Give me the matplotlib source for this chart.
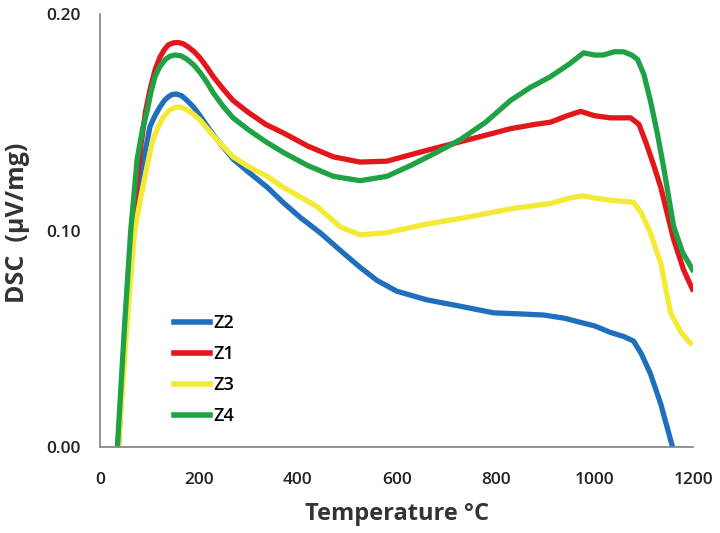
import matplotlib
matplotlib.use("Agg")
import matplotlib.pyplot as plt

# values (temperature in °C, DSC in µV/mg)
z2_t = [36, 52, 66, 83, 101, 111, 121, 130, 138, 146, 154, 165, 176, 189, 202,
        217, 233, 269, 300, 338, 370, 405, 445, 490, 526, 560, 600, 661, 730,
        796, 850, 897, 940, 965, 1000, 1032, 1060, 1079, 1095, 1113, 1134, 1158]
z2_v = [0.0, 0.058, 0.10, 0.127, 0.148, 0.153, 0.157, 0.160, 0.1617, 0.1628,
        0.163, 0.1622, 0.160, 0.157, 0.153, 0.148, 0.143, 0.133, 0.127, 0.120,
        0.113, 0.106, 0.099, 0.090, 0.083, 0.077, 0.072, 0.068, 0.065, 0.062,
        0.0615, 0.061, 0.0595, 0.058, 0.056, 0.053, 0.051, 0.049, 0.043,
        0.034, 0.020, 0.0]

z1_t = [37, 52, 65, 80, 92, 101, 111, 121, 130, 138, 148, 158, 168, 178, 190,
        202, 215, 229, 250, 269, 300, 335, 371, 420, 472, 526, 580, 661, 729,
        780, 830, 880, 911, 945, 972, 1000, 1032, 1073, 1090, 1105, 1120, 1134,
        1160, 1180, 1198]
z1_v = [0.0, 0.058, 0.10, 0.135, 0.155, 0.165, 0.174, 0.180, 0.1835, 0.1857,
        0.1866, 0.1868, 0.1862, 0.1848, 0.1826, 0.1797, 0.1757, 0.171, 0.165,
        0.160, 0.1545, 0.149, 0.145, 0.139, 0.134, 0.1316, 0.132, 0.137, 0.141,
        0.144, 0.147, 0.149, 0.150, 0.153, 0.155, 0.153, 0.152, 0.152, 0.149,
        0.140, 0.130, 0.120, 0.096, 0.082, 0.073]

z3_t = [37, 55, 70, 82, 91, 100, 107, 118, 128, 140, 154, 165, 176, 189, 202,
        217, 236, 269, 300, 338, 370, 405, 439, 486, 526, 580, 661, 740, 830,
        911, 950, 976, 1000, 1032, 1079, 1095, 1113, 1134, 1154, 1175, 1194]
z3_v = [0.0, 0.0587, 0.10, 0.115, 0.125, 0.135, 0.142, 0.148, 0.1524, 0.1555,
        0.157, 0.1568, 0.1557, 0.1537, 0.151, 0.147, 0.142, 0.134, 0.1295,
        0.125, 0.120, 0.1155, 0.111, 0.1016, 0.098, 0.099, 0.103, 0.106, 0.110,
        0.1125, 0.115, 0.116, 0.115, 0.114, 0.113, 0.108, 0.099, 0.085, 0.062,
        0.053, 0.048]

z4_t = [35, 50, 62, 75, 86, 95, 103, 111, 121, 132, 142, 152, 164, 176, 189,
        202, 215, 229, 250, 269, 300, 335, 371, 420, 472, 526, 580, 628, 680,
        729, 780, 830, 870, 911, 950, 978, 1000, 1018, 1040, 1059, 1075, 1087,
        1100, 1113, 1127, 1140, 1160, 1178, 1198]
z4_v = [0.0, 0.058, 0.10, 0.133, 0.147, 0.155, 0.164, 0.171, 0.1757, 0.179,
        0.1805, 0.181, 0.1806, 0.179, 0.1765, 0.173, 0.1688, 0.1635, 0.157,
        0.152, 0.1465, 0.141, 0.136, 0.130, 0.125, 0.123, 0.125, 0.130, 0.136,
        0.142, 0.150, 0.160, 0.166, 0.171, 0.177, 0.182, 0.181, 0.181, 0.1825,
        0.1825, 0.181, 0.179, 0.172, 0.160, 0.145, 0.129, 0.102, 0.090, 0.082]

x_ticks = [0, 200, 400, 600, 800, 1000, 1200]
y_ticks = [0.0, 0.10, 0.20]

series = [
    ("Z2", z2_t, z2_v, "#1f6fbd"),
    ("Z1", z1_t, z1_v, "#e3161c"),
    ("Z3", z3_t, z3_v, "#f2ea35"),
    ("Z4", z4_t, z4_v, "#1fa146"),
]

plt.rcParams["font.family"] = ["Open Sans", "DejaVu Sans"]

fig = plt.figure(figsize=(7.2, 5.33), dpi=100)
ax = fig.add_axes([0.139, 0.161, 0.824, 0.813])

for name, t, v, col in series:
    ax.plot(t, v, color=col, lw=3.8, label=name, solid_joinstyle="round")

ax.set_xlim(0, 1200)
ax.set_ylim(0, 0.20)
ax.set_xticks(x_ticks)
ax.set_yticks(y_ticks)
ax.set_yticklabels([f"{y:.2f}" for y in y_ticks])
ax.tick_params(length=0, labelsize=12.5, labelcolor="#222222")
ax.tick_params(axis="y", pad=14)
ax.tick_params(axis="x", pad=18)
for lab in ax.get_xticklabels() + ax.get_yticklabels():
    lab.set_fontweight("semibold")

for side in ["top", "right"]:
    ax.spines[side].set_visible(False)
for side in ["left", "bottom"]:
    ax.spines[side].set_color("#8a8a8a")
    ax.spines[side].set_linewidth(1.3)

ax.set_xlabel("Temperature °C", fontsize=17, fontweight="bold", color="#333333", labelpad=10)
ax.set_ylabel("DSC  (µV/mg)", fontsize=18, fontweight="bold", color="#333333")
ax.yaxis.set_label_coords(-0.118, 0.517)

leg = ax.legend(loc="upper left", bbox_to_anchor=(0.097, 0.345), frameon=False,
                handlelength=2.0, handletextpad=0.2, labelspacing=0.72,
                prop={"size": 13, "weight": "semibold"})
for line in leg.get_lines():
    line.set_linewidth(4)

fig.savefig("out.png", dpi=100)
